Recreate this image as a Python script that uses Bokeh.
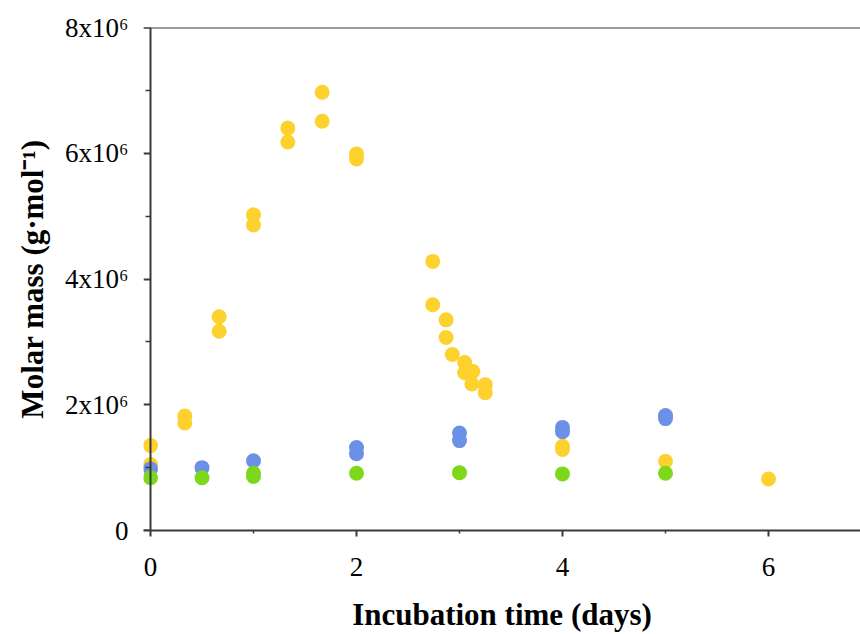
from bokeh.plotting import figure
from bokeh.models import Range1d, FixedTicker, Span, LinearAxis
from bokeh.embed import file_html
from bokeh.resources import INLINE

# ---- data (days, g/mol) ----
yellow_x = [0, 0, 1/3, 1/3, 2/3, 2/3, 1, 1, 4/3, 4/3, 5/3, 5/3, 2, 2,
            2.74, 2.74, 2.87, 2.87, 2.93, 3.05, 3.05, 3.13, 3.12, 3.25, 3.25,
            4, 4, 5, 6]
yellow_y = [1.35e6, 1.05e6, 1.82e6, 1.71e6, 3.40e6, 3.17e6, 5.02e6, 4.86e6,
            6.40e6, 6.18e6, 6.97e6, 6.51e6, 5.99e6, 5.91e6,
            4.28e6, 3.59e6, 3.35e6, 3.07e6, 2.80e6, 2.67e6, 2.51e6, 2.53e6,
            2.33e6, 2.32e6, 2.19e6, 1.34e6, 1.29e6, 1.10e6, 0.82e6]

blue_x = [0, 0.5, 1, 2, 2, 3, 3, 4, 4, 5, 5]
blue_y = [0.98e6, 1.00e6, 1.11e6, 1.32e6, 1.22e6, 1.55e6, 1.43e6,
          1.64e6, 1.57e6, 1.83e6, 1.78e6]

green_x = [0, 0.5, 1, 1, 2, 3, 4, 5]
green_y = [0.84e6, 0.84e6, 0.91e6, 0.86e6, 0.91e6, 0.92e6, 0.90e6, 0.91e6]

x_major = [0, 2, 4, 6]
x_minor = [1, 3, 5]
y_major = [0, 2e6, 4e6, 6e6, 8e6]
y_minor = [1e6, 3e6, 5e6, 7e6]
y_labels = ["0", "2x10\u2076", "4x10\u2076", "6x10\u2076", "8x10\u2076"]
x_title = "Incubation time (days)"
y_title = "Molar mass (g\u00b7mol\u207b\u00b9)"

FONT = "Liberation Serif"
AX = "#3a3a3a"

p = figure(width=860, height=634, output_backend="svg", toolbar_location=None,
           x_range=Range1d(-7 / 103, 710 / 103), y_range=Range1d(0, 8e6),
           min_border_left=143, min_border_right=0, min_border_top=27,
           min_border_bottom=104)
p.outline_line_color = None
p.xgrid.visible = False
p.ygrid.visible = False
p.background_fill_color = "white"
p.border_fill_color = "white"

p.scatter(yellow_x, yellow_y, size=15, color="#FDD22E", line_color=None)
p.scatter(blue_x, blue_y, size=15, color="#6B91E7", line_color=None)
p.scatter(green_x, green_y, size=15, color="#7DD81B", line_color=None)

p.add_layout(Span(location=8e6, dimension="width", line_color=AX, line_width=2))

# x axis
xa = p.xaxis[0]
xa.ticker = FixedTicker(ticks=x_major, minor_ticks=x_minor)
xa.axis_label = x_title
xa.axis_line_color = AX
xa.axis_line_width = 2
xa.major_tick_line_color = AX
xa.minor_tick_line_color = AX
xa.major_tick_line_width = 2
xa.minor_tick_line_width = 1.5
xa.major_tick_in = 0
xa.minor_tick_in = 0
xa.major_tick_out = 6
xa.minor_tick_out = 3
xa.major_label_standoff = 21
xa.axis_label_standoff = 18

# y axis: labels only, adjacent to the frame
ya = p.yaxis[0]
ya.ticker = FixedTicker(ticks=y_major, minor_ticks=y_minor)
ya.major_label_overrides = {int(v): s for v, s in zip(y_major, y_labels)}
ya.axis_label = y_title
ya.axis_line_color = None
ya.major_tick_line_color = None
ya.minor_tick_line_color = None
ya.major_tick_in = 0
ya.major_tick_out = 0
ya.minor_tick_in = 0
ya.minor_tick_out = 0
ya.major_label_standoff = 15
ya.axis_label_standoff = 12

# y spine with ticks at x = 0
ys = LinearAxis(ticker=FixedTicker(ticks=y_major, minor_ticks=y_minor),
                fixed_location=0)
ys.axis_line_color = AX
ys.axis_line_width = 2
ys.major_tick_line_color = AX
ys.minor_tick_line_color = AX
ys.major_tick_line_width = 2
ys.minor_tick_line_width = 1.5
ys.major_tick_in = 0
ys.minor_tick_in = 0
ys.major_tick_out = 7
ys.minor_tick_out = 5
ys.major_label_text_color = None
ys.major_label_text_font_size = "1px"
p.add_layout(ys, "left")

for ax in (xa, ya):
    ax.major_label_text_font = FONT
    ax.major_label_text_font_size = "27px"
    ax.major_label_text_color = "black"
    ax.axis_label_text_font = FONT
    ax.axis_label_text_font_size = "31px"
    ax.axis_label_text_font_style = "bold"
    ax.axis_label_text_color = "black"

open("out.html", "w").write(file_html(p, INLINE))
